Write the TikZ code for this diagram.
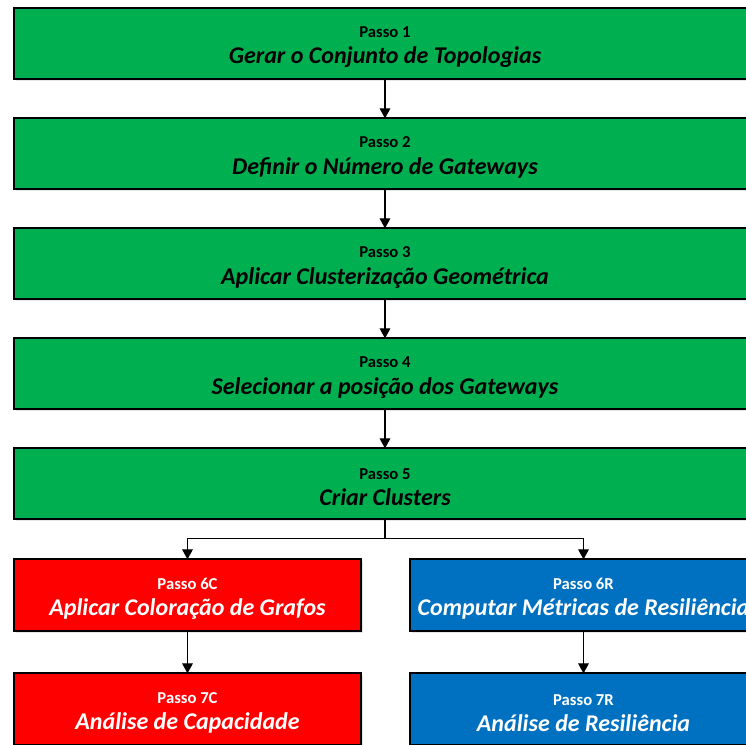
\documentclass[tikz,border=0pt]{standalone}
\usepackage{fontspec}
\setmainfont{Carlito}
\usetikzlibrary{positioning,arrows.meta,shadows}
\definecolor{passogreen}{HTML}{00B050}
\definecolor{passored}{HTML}{FF0000}
\definecolor{passoblue}{HTML}{0070C0}
\newcommand{\passo}[2]{{\fontsize{12.5}{15}\selectfont\rule{0pt}{13.5pt}Passo #1}\\[6pt]{\fontsize{18}{21}\selectfont\itshape #2}}

\begin{document}
\begin{tikzpicture}[
    x=0.75pt, y=-0.75pt, >={Triangle[length=7.5pt,width=8pt]},
    passobox/.style={draw=black, line width=1.6pt, align=center, inner sep=0pt, outer sep=0pt,
      font=\bfseries, drop shadow={opacity=0.2, shadow xshift=1.2pt, shadow yshift=-1.2pt}},
    greenbox/.style={passobox, fill=passogreen, text=black, minimum width=556.5pt, minimum height=53.25pt},
    redbox/.style={passobox, fill=passored, text=white, minimum width=260.25pt, minimum height=54pt},
    bluebox/.style={passobox, fill=passoblue, text=white, minimum width=260.25pt, minimum height=54pt},
    link/.style={->, line width=0.9pt}
  ]
    \path[use as bounding box, clip] (0,0) rectangle (746,745);
    \node[greenbox] (s1) at (385,43.5) {\passo{1}{Gerar o Conjunto de Topologias}};
    \node[greenbox, below=29.5pt of s1] (s2) {\passo{2}{Definir o Número de Gateways}};
    \node[greenbox, below=29.25pt of s2] (s3) {\passo{3}{Aplicar Clusterização Geométrica}};
    \node[greenbox, below=29.25pt of s3] (s4) {\passo{4}{Selecionar a posição dos Gateways}};
    \node[greenbox, below=29.25pt of s4] (s5) {\passo{5}{Criar Clusters}};
    \node[redbox, below=30pt of s5.south west, anchor=north west] (s6c) {\passo{6C}{Aplicar Coloração de Grafos}};
    \node[bluebox, right=36.75pt of s6c] (s6r) {\passo{6R}{Computar Métricas de Resiliência}};
    \node[redbox, below=31.5pt of s6c] (s7c) {\passo{7C}{Análise de Capacidade}};
    \node[bluebox, below=31.5pt of s6r] (s7r) {\passo{7R}{Análise de Resiliência}};
    \coordinate[below=14.25pt of s5.south] (split);
    \draw[link] (s1) -- (s2);
    \draw[link] (s2) -- (s3);
    \draw[link] (s3) -- (s4);
    \draw[link] (s4) -- (s5);
    \draw[line width=0.9pt] (s5.south) -- (split);
    \draw[link] (split) -| (s6c.north);
    \draw[link] (split) -| (s6r.north);
    \draw[link] (s6c) -- (s7c);
    \draw[link] (s6r) -- (s7r);
  \end{tikzpicture}
\end{document}
